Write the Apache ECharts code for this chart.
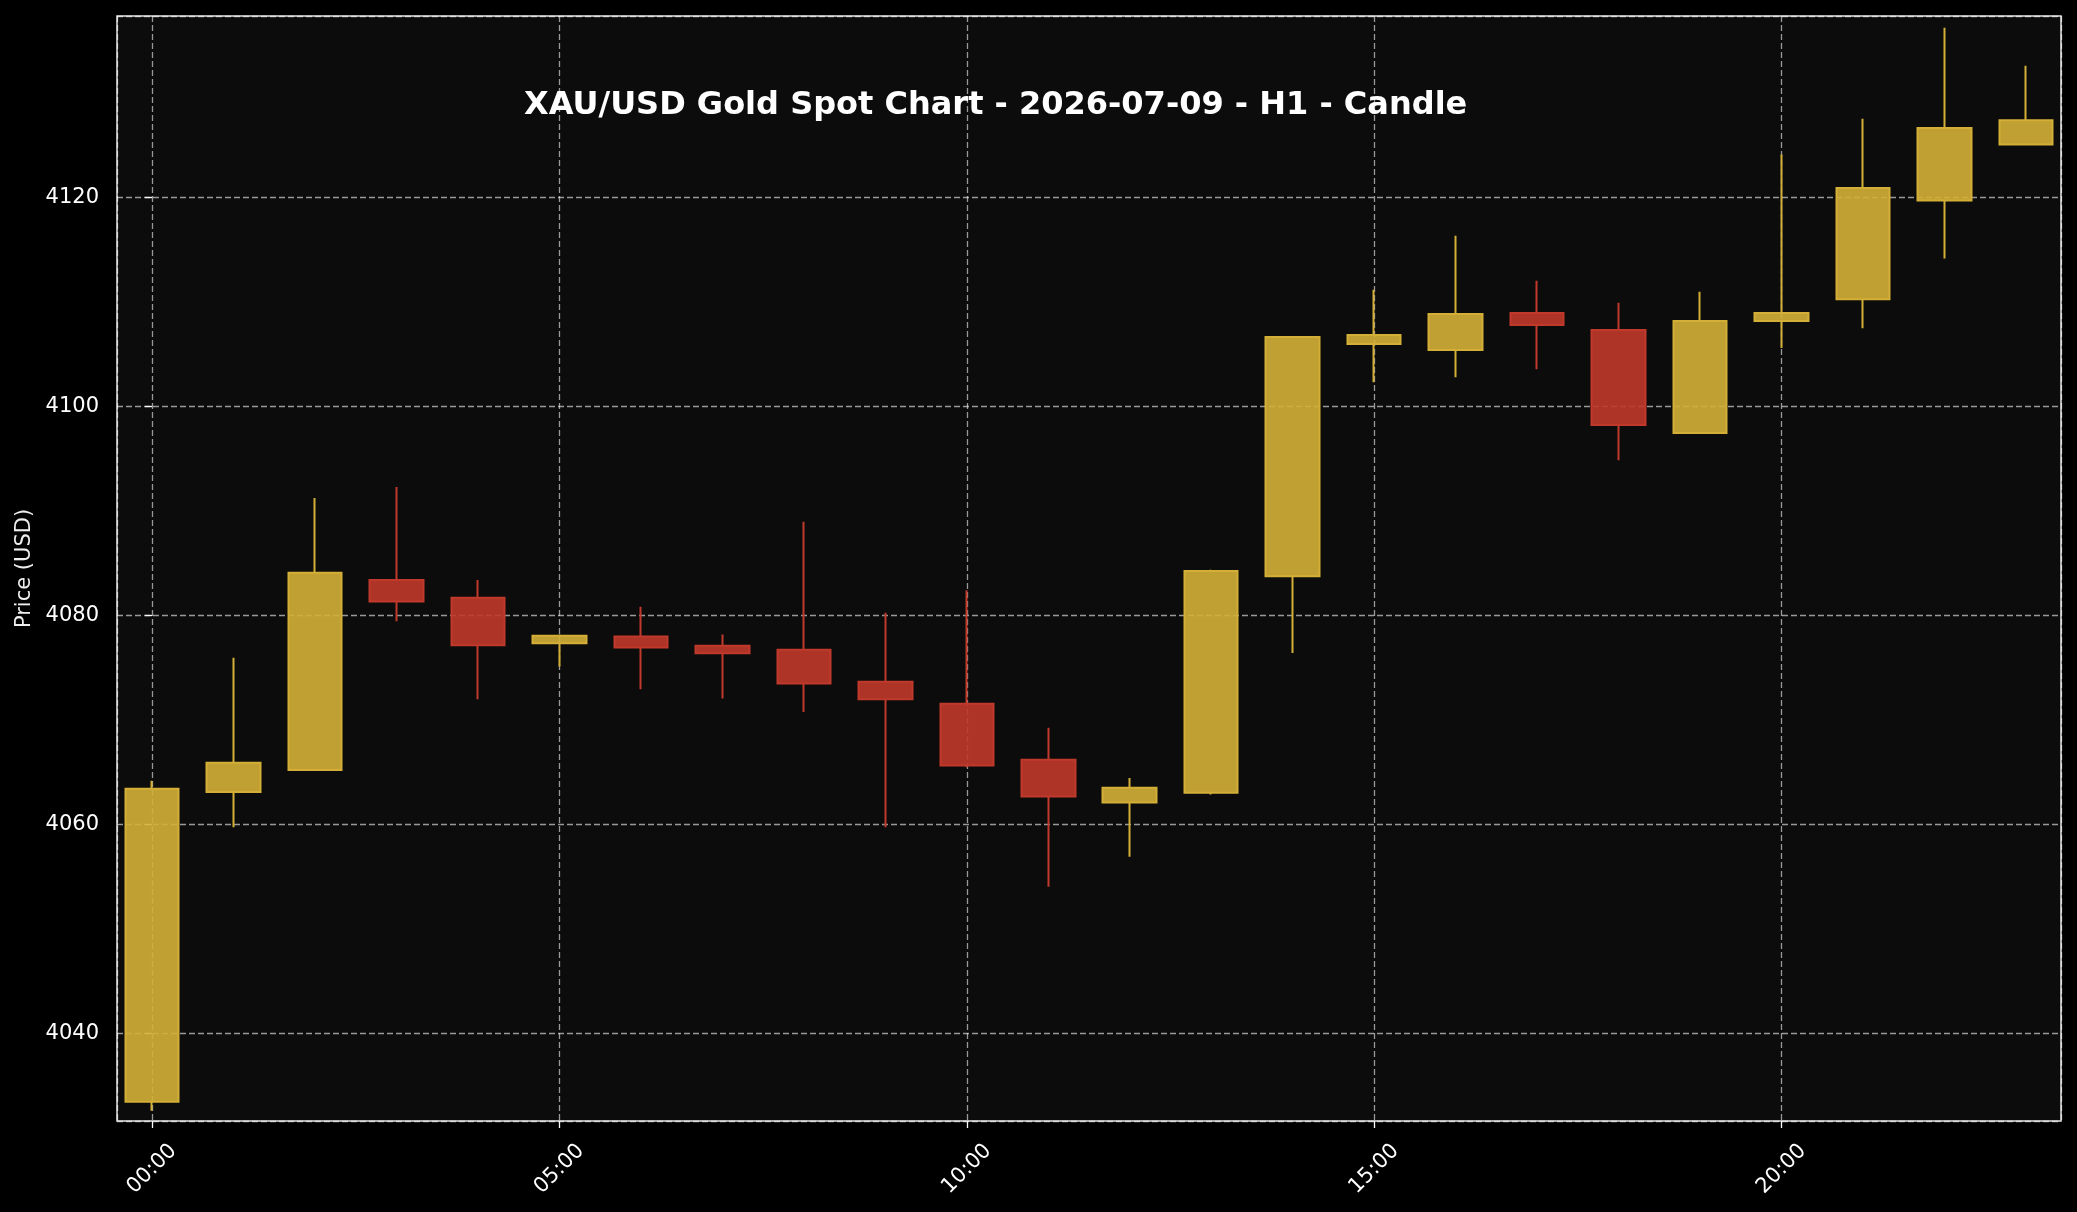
<!DOCTYPE html>
<html>
<head>
<meta charset="utf-8">
<title>XAU/USD Gold Spot Chart</title>
<script src="https://cdn.jsdelivr.net/npm/echarts@6/dist/echarts.min.js"></script>
<style>
  html, body { margin: 0; padding: 0; background: #000; }
  #chart { width: 2077px; height: 1212px; }
</style>
</head>
<body>
<div id="chart"></div>
<script>
// hourly candles
const hours = ["00:00", "01:00", "02:00", "03:00", "04:00", "05:00", "06:00", "07:00",
  "08:00", "09:00", "10:00", "11:00", "12:00", "13:00", "14:00", "15:00",
  "16:00", "17:00", "18:00", "19:00", "20:00", "21:00", "22:00", "23:00"];
const opens = [4033.45, 4063.10, 4065.20, 4083.41, 4081.71, 4077.34, 4077.98, 4077.10,
  4076.71, 4073.65, 4071.54, 4066.20, 4062.10, 4063.04, 4083.75, 4106.00,
  4105.42, 4108.96, 4107.34, 4097.48, 4108.20, 4110.27, 4119.74, 4125.10];
const closes = [4063.41, 4065.91, 4084.09, 4081.35, 4077.14, 4078.06, 4076.94, 4076.39,
  4073.49, 4071.97, 4065.63, 4062.67, 4063.51, 4084.26, 4106.67, 4106.86,
  4108.87, 4107.81, 4098.25, 4108.20, 4108.96, 4120.93, 4126.67, 4127.43];
const lows = [4032.58, 4059.72, 4065.20, 4079.44, 4071.98, 4075.12, 4072.94, 4072.06,
  4070.77, 4059.72, 4065.46, 4054.04, 4056.90, 4062.87, 4076.40, 4102.33,
  4102.81, 4103.57, 4094.86, 4097.40, 4105.61, 4107.50, 4114.19, 4125.10];
const highs = [4064.17, 4075.95, 4091.25, 4092.30, 4083.41, 4078.17, 4080.83, 4078.17,
  4088.97, 4080.27, 4082.42, 4069.25, 4064.45, 4084.37, 4106.77, 4111.20,
  4116.36, 4112.06, 4109.95, 4111.00, 4124.15, 4127.56, 4136.27, 4132.63];

const gold = "#d4af37";
const red = "#c0392b";
const gridDash = { color: "rgba(255,255,255,0.58)", width: 1.3, type: [6, 3] };

// [x, open, close, low, high]
const candles = hours.map(function (h, i) {
  return [i, opens[i], closes[i], lows[i], highs[i]];
});

const chart = echarts.init(document.getElementById("chart"));
const option = {
  animation: false,
  backgroundColor: "#000000",
  textStyle: { fontFamily: "DejaVu Sans" },
  title: {
    text: "XAU/USD Gold Spot Chart - 2026-07-09 - H1 - Candle",
    left: 524,
    top: 90,
    padding: 0,
    textStyle: { color: "#ffffff", fontSize: 32, fontWeight: "bold", fontFamily: "DejaVu Sans" }
  },
  grid: {
    left: 117, right: 16, top: 16, bottom: 91,
    show: true,
    backgroundColor: "#0c0c0c",
    borderColor: "#e6e6e6",
    borderWidth: 1.5
  },
  xAxis: {
    type: "value",
    min: -0.43,
    max: 23.43,
    splitNumber: 5,
    axisLine: { show: false },
    axisTick: { show: true, length: 7, lineStyle: { color: "#ffffff", width: 1.3 } },
    axisLabel: {
      color: "#ffffff",
      fontSize: 21,
      rotate: 45,
      align: "center",
      verticalAlign: "middle",
      margin: 48,
      showMinLabel: false,
      showMaxLabel: false,
      formatter: function (v) { return hours[Math.round(v)] || ""; }
    },
    splitLine: { show: true, lineStyle: gridDash }
  },
  yAxis: {
    type: "value",
    min: 4031.6,
    max: 4137.4,
    splitNumber: 5,
    name: "Price (USD)",
    nameLocation: "middle",
    nameGap: 82,
    nameTextStyle: { color: "#eeeeee", fontSize: 21 },
    axisLine: { show: false },
    axisTick: { show: true, length: 7, lineStyle: { color: "#ffffff", width: 1.3 } },
    axisLabel: {
      color: "#ffffff",
      fontSize: 21,
      margin: 18,
      showMinLabel: false,
      showMaxLabel: false,
      formatter: function (v) { return String(v); }
    },
    splitLine: { show: true, lineStyle: gridDash }
  },
  series: [
    {
      type: "candlestick",
      data: candles,
      barWidth: 54,
      itemStyle: {
        color: "rgba(212,175,55,0.9)",
        color0: "rgba(192,57,43,0.9)",
        borderColor: gold,
        borderColor0: red,
        borderWidth: 2
      }
    }
  ]
};
chart.setOption(option);
</script>
</body>
</html>
